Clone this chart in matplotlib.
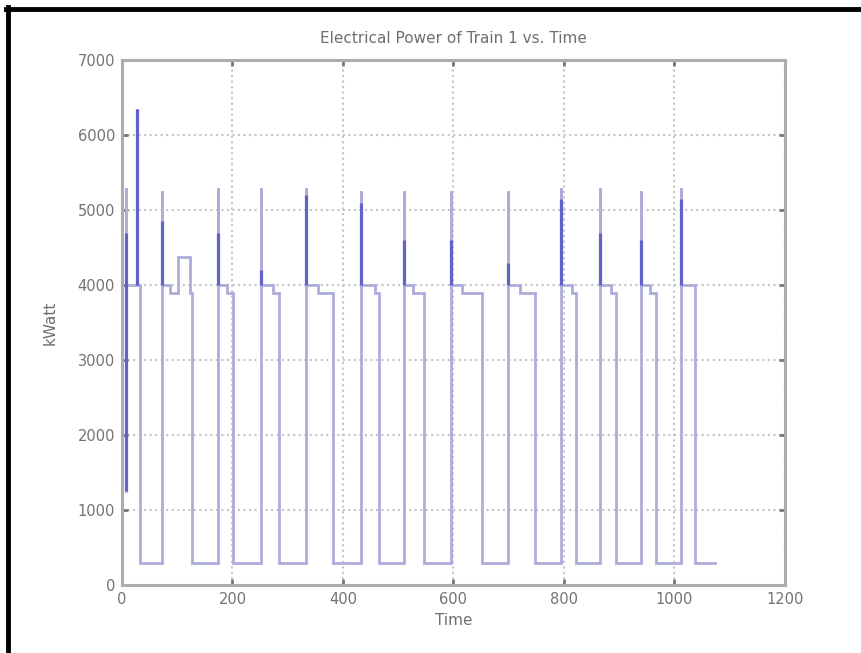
import numpy as np
import matplotlib
matplotlib.use("Agg")
import matplotlib.pyplot as plt

# --- levels (kW) ---
idle_level = 300
cruise_level = 4000
coast_level = 3900
start_level = 1250
end_time = 1073

# --- one entry per run between stations ---
rise_t     = [8, 72, 174, 252, 333, 433, 511, 595, 698, 795, 866, 939, 1012]
peak       = [5300, 5250, 5300, 5300, 5300, 5250, 5250, 5250, 5250, 5300, 5300, 5250, 5300]
dark_top   = [4700, 4850, 4700, 4200, 5200, 5100, 4600, 4600, 4300, 5150, 4700, 4600, 5150]
cruise_end = [33, 87, 190, 274, 355, 458, 527, 615, 720, 815, 885, 956, 1037]
fall_t     = [33, 127, 201, 285, 382, 466, 546, 652, 747, 822, 894, 966, 1037]

# extra events
extra_spike_t = [27]
extra_spike_peak = [6350]
bump_start, bump_end, bump_level = 101, 123, 4370

# --- build the step trace ---
t, p = [rise_t[0]], [start_level]
for i in range(len(rise_t)):
    r = rise_t[i]
    if i > 0:
        t += [r]
        p += [idle_level]
    t += [r, r, r]
    p += [peak[i], peak[i], cruise_level]
    for et, ep in zip(extra_spike_t, extra_spike_peak):
        if r < et < fall_t[i]:
            t += [et, et, et]
            p += [cruise_level, ep, cruise_level]
    if cruise_end[i] < fall_t[i]:
        t += [cruise_end[i], cruise_end[i]]
        p += [cruise_level, coast_level]
        if r < bump_start < fall_t[i]:
            t += [bump_start, bump_start, bump_end, bump_end]
            p += [coast_level, bump_level, bump_level, coast_level]
        t += [fall_t[i]]
        p += [coast_level]
    else:
        t += [fall_t[i]]
        p += [cruise_level]
    t += [fall_t[i]]
    p += [idle_level]
t += [end_time]
p += [idle_level]

fig = plt.figure(figsize=(8.61, 6.53), dpi=100)
ax = fig.add_axes([0.1417, 0.1041, 0.7700, 0.8040])

ax.plot(t, p, color="#adaddc", linewidth=2.0, solid_joinstyle="miter", zorder=3)
# darker overlapping part of each spike
ax.vlines(rise_t[1:], cruise_level, dark_top[1:], color="#6262cc", linewidth=2.3, zorder=4)
ax.vlines([rise_t[0]], start_level, dark_top[0], color="#6262cc", linewidth=2.3, zorder=4)
ax.vlines(extra_spike_t, cruise_level, extra_spike_peak, color="#6262cc", linewidth=2.3, zorder=4)

ax.set_xlim(0, 1200)
ax.set_ylim(0, 7000)
ax.set_xticks(np.arange(0, 1201, 200))
ax.set_yticks(np.arange(0, 7001, 1000))
ax.grid(True, linestyle=":", color="#c4c4c4", linewidth=1.5)
ax.set_axisbelow(True)

for s in ax.spines.values():
    s.set_color("#adadad")
    s.set_linewidth(2.2)
ax.tick_params(direction="in", length=4, width=2, color="#777777",
               top=True, right=True, labelsize=10.5, labelcolor="#737373", pad=5)

ax.set_title("Electrical Power of Train 1 vs. Time", fontsize=11, color="#6e6e6e", pad=12)
ax.set_xlabel("Time", fontsize=11, color="#6e6e6e", labelpad=4)
ax.set_ylabel("kWatt", fontsize=11, color="#6e6e6e", labelpad=14)

# black frame lines at top and left of the image
fig.add_artist(plt.Line2D([0.007, 1.0], [0.986, 0.986], transform=fig.transFigure,
                          color="black", linewidth=3.5))
fig.add_artist(plt.Line2D([0.0093, 0.0093], [0.0, 0.989], transform=fig.transFigure,
                          color="black", linewidth=3.5))

fig.savefig("out.png", dpi=100)
